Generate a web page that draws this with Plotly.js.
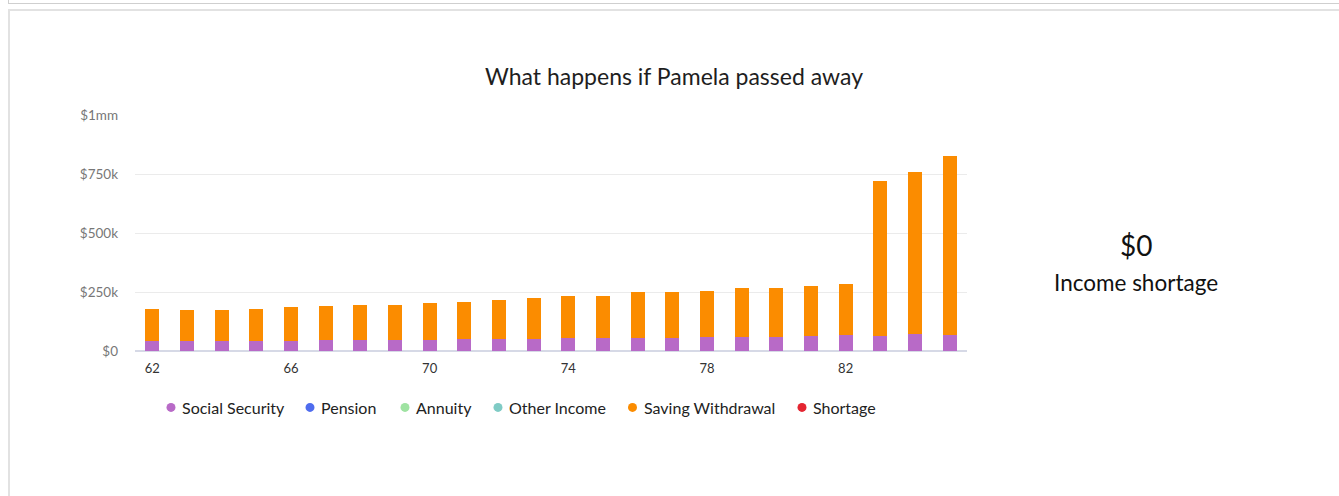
<!DOCTYPE html>
<html>
<head>
<meta charset="utf-8">
<script src="https://cdn.plot.ly/plotly-3.0.1.min.js"></script>
<style>
  html, body { margin: 0; padding: 0; background: #fff; width: 1339px; height: 496px; overflow: hidden; }
  #topcard { position: absolute; left: 8px; top: -30px; width: 1400px; height: 34px; border: 1px solid #cfcfcf; box-sizing: border-box; }
  #card { position: absolute; left: 8px; top: 9px; width: 1400px; height: 600px; border: 2px solid #e2e2e2; box-sizing: border-box; }
  #chart { position: absolute; left: 0; top: 0; width: 1339px; height: 496px; }
</style>
</head>
<body>
<div id="topcard"></div>
<div id="card"></div>
<div id="chart"></div>
<script>
const ages = [62,63,64,65,66,67,68,69,70,71,72,73,74,75,76,77,78,79,80,81,82,83,84,85];
const socialSecurity = [42000,42000,42000,42000,42000,45000,45000,45000,45000,51000,51000,51000,54000,54000,54000,54000,59000,59000,59000,62000,68000,62000,71000,68000];
const pension = [0,0,0,0,0,0,0,0,0,0,0,0,0,0,0,0,0,0,0,0,0,0,0,0];
const annuity = [0,0,0,0,0,0,0,0,0,0,0,0,0,0,0,0,0,0,0,0,0,0,0,0];
const otherIncome = [0,0,0,0,0,0,0,0,0,0,0,0,0,0,0,0,0,0,0,0,0,0,0,0];
const savingWithdrawal = [134600,130000,130000,134600,143000,144000,148000,152000,157000,155000,167000,172000,177000,181000,194000,198000,197000,206000,210000,215000,218000,660000,689000,759000];
const shortage = [0,0,0,0,0,0,0,0,0,0,0,0,0,0,0,0,0,0,0,0,0,0,0,0];
const seriesNames = ['Social Security','Pension','Annuity','Other Income','Saving Withdrawal','Shortage'];
const seriesColors = ['#b86ac7','#4f6cee','#9fe3a2','#7fcbc5','#fb8c00','#e42531'];
const xTicks = [62,66,70,74,78,82];
const yTickVals = [0,250000,500000,750000,1000000];
const yTickText = ['$0','$250k','$500k','$750k','$1mm'];
const chartTitle = 'What happens if Pamela passed away';
const shortageTotal = '$0';
const shortageLabel = 'Income shortage';

const seriesValues = [socialSecurity, pension, annuity, otherIncome, savingWithdrawal, shortage];

const traces = seriesValues.map((vals, i) => ({
  type: 'bar', x: ages, y: vals, name: seriesNames[i],
  marker: {color: seriesColors[i]}, width: 0.4,
  showlegend: false, hoverinfo: 'skip'
}));

// Plot geometry (pixels)
const W = 1339, H = 496;
const plotL = 135, plotR = 967, plotT = 115, plotB = 351.5;
const pw = plotR - plotL, ph = plotB - plotT;
const px2x = p => (p - plotL) / pw;
const py2y = p => (plotB - p) / ph;

// Legend layout (custom, to match the original's tight symbol spacing)
const legendMarkerX = [171, 310, 405, 498, 632.5, 802];
const legendY = 408;
const font = 'Lato, "Open Sans", sans-serif';

const annotations = [
  {text: shortageTotal, xref: 'paper', yref: 'paper', x: px2x(1136), y: py2y(245),
   showarrow: false, xanchor: 'center', yanchor: 'middle', font: {size: 28, color: '#111', family: font}},
  {text: shortageLabel, xref: 'paper', yref: 'paper', x: px2x(1136), y: py2y(283),
   showarrow: false, xanchor: 'center', yanchor: 'middle', font: {size: 22.5, color: '#111', family: font}}
];
const shapes = [];
seriesNames.forEach((n, i) => {
  shapes.push({type: 'circle', xref: 'paper', yref: 'paper', xsizemode: 'pixel', ysizemode: 'pixel',
    xanchor: px2x(legendMarkerX[i]), yanchor: py2y(legendY), x0: -4.5, x1: 4.5, y0: -4.5, y1: 4.5,
    fillcolor: seriesColors[i], line: {width: 0}});
  annotations.push({text: n, xref: 'paper', yref: 'paper', x: px2x(legendMarkerX[i] + 9), y: py2y(legendY),
    showarrow: false, xanchor: 'left', yanchor: 'middle', font: {size: 16, color: '#222', family: font}});
});

const layout = {
  width: W, height: H,
  margin: {l: plotL, r: W - plotR, t: plotT, b: H - plotB, pad: 0},
  paper_bgcolor: 'rgba(0,0,0,0)', plot_bgcolor: 'rgba(0,0,0,0)',
  font: {family: font, color: '#222'},
  barmode: 'stack',
  showlegend: false,
  title: {text: chartTitle, font: {size: 23, color: '#1e1e1e', family: font},
          xref: 'container', yref: 'container', x: 674 / W, y: 1 - 77 / H, xanchor: 'center', yanchor: 'middle'},
  xaxis: {range: [61.5, 85.5], tickvals: xTicks, ticks: '', showgrid: false, zeroline: false,
          tickfont: {size: 13, color: '#333'}, ticklabelstandoff: 8, fixedrange: true},
  yaxis: {range: [0, 1000000], tickvals: yTickVals, ticktext: yTickText, ticks: '',
          showgrid: true, gridcolor: '#ebebeb', gridwidth: 1,
          zeroline: true, zerolinecolor: '#d6d9e6', zerolinewidth: 2,
          tickfont: {size: 13.5, color: '#777'}, ticklabelstandoff: 16, fixedrange: true},
  annotations: annotations,
  shapes: shapes
};
Plotly.newPlot('chart', traces, layout, {displayModeBar: false, staticPlot: true});
</script>
</body>
</html>
